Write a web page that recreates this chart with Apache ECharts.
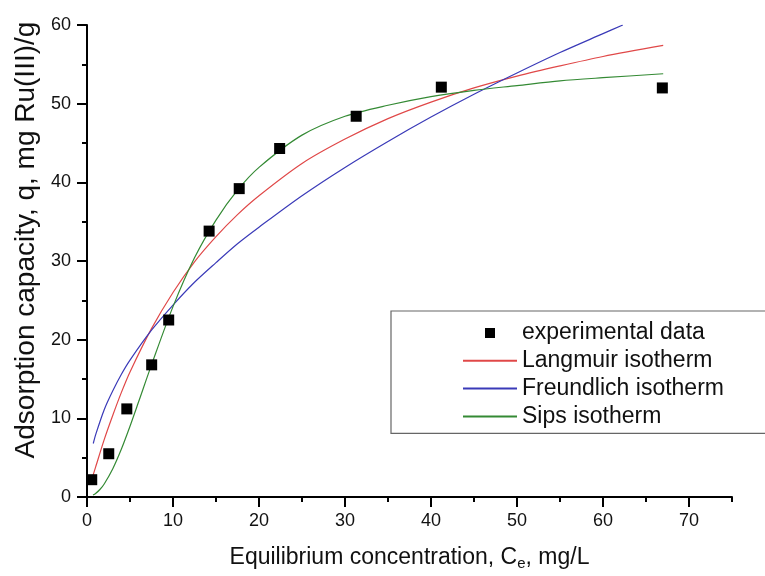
<!DOCTYPE html>
<html>
<head>
<meta charset="utf-8">
<script src="https://cdn.jsdelivr.net/npm/echarts@6/dist/echarts.min.js"></script>
<style>
html,body{margin:0;padding:0;background:#fff;}
#chart{width:765px;height:576px;}
</style>
</head>
<body>
<div id="chart"></div>
<script>
// Experimental data
var expX = [0.55, 2.53, 4.63, 7.52, 9.5, 14.2, 17.7, 22.4, 31.3, 41.2, 66.9];
var expY = [2.2, 5.5, 11.2, 16.8, 22.5, 33.8, 39.2, 44.3, 48.4, 52.1, 52.0];

// Langmuir isotherm curve
var langX = [0.6, 1, 2, 3, 4, 5, 7.5, 10, 12.5, 15, 17.5, 20, 25, 30, 35, 40, 45, 50, 55, 60, 67];
var langY = [2.4, 3.8, 7.3, 10.4, 13.3, 15.9, 21.4, 26.0, 29.9, 33.1, 35.9, 38.3, 42.4, 45.5, 48.1, 50.2, 52.0, 53.5, 54.8, 56.0, 57.4];

// Freundlich isotherm curve
var freuX = [0.73, 1, 2, 3, 4, 5, 7.5, 10, 12.5, 15, 17.5, 20, 25, 30, 35, 40, 45, 50, 55, 60, 62.3];
var freuY = [6.8, 7.9, 11.1, 13.5, 15.6, 17.4, 21.2, 24.4, 27.3, 29.8, 32.2, 34.3, 38.3, 41.9, 45.2, 48.3, 51.2, 53.9, 56.5, 58.9, 60.0];

// Sips isotherm curve
var sipsX = [0.7, 1, 1.5, 2, 3, 4, 5, 6, 7.5, 10, 12.5, 15, 17.5, 20, 25, 30, 35, 40, 45, 50, 55, 60, 67];
var sipsY = [0.25, 0.45, 0.95, 1.66, 3.6, 6.1, 9.0, 12.1, 16.8, 24.2, 30.4, 35.2, 39.0, 41.9, 46.0, 48.4, 49.8, 50.9, 51.7, 52.3, 52.9, 53.3, 53.8];

// Tick labels
var xTicks = [0, 10, 20, 30, 40, 50, 60, 70];
var xMinorTicks = [5, 15, 25, 35, 45, 55, 65, 75];
var yTicks = [0, 10, 20, 30, 40, 50, 60];

var seriesNames = ['experimental data', 'Langmuir isotherm', 'Freundlich isotherm', 'Sips isotherm'];

function pairs(xs, ys) { return xs.map(function (x, i) { return [x, ys[i]]; }); }

var FONT = 'Liberation Sans, Arial, sans-serif';
var chart = echarts.init(document.getElementById('chart'), null, { renderer: 'canvas' });

chart.setOption({
  backgroundColor: '#ffffff',
  animation: false,
  textStyle: { fontFamily: FONT },
  grid: { left: 87, right: 33, top: 25, bottom: 75, containLabel: false },
  legend: {
    orient: 'vertical',
    left: 391,
    top: 311,
    padding: [9, 80, 4, 71],
    borderColor: '#666',
    borderWidth: 1.2,
    itemWidth: 54,
    itemHeight: 10,
    itemGap: 1.8,
    symbolKeepAspect: true,
    selectedMode: false,
    textStyle: { fontFamily: FONT, fontSize: 23, color: '#111', lineHeight: 26 },
    data: [
      { name: seriesNames[0], icon: 'path://M0,0H10V10H0Z', itemStyle: { color: '#000', opacity: 1 } },
      { name: seriesNames[1], itemStyle: { opacity: 0 } },
      { name: seriesNames[2], itemStyle: { opacity: 0 } },
      { name: seriesNames[3], itemStyle: { opacity: 0 } }
    ]
  },
  xAxis: [
    {
      type: 'value', min: 0, max: 75, interval: 10,
      name: 'Equilibrium concentration, C{sub|e}, mg/L',
      nameLocation: 'middle', nameGap: 47,
      nameTextStyle: {
        fontFamily: FONT, fontSize: 23, color: '#111',
        rich: { sub: { fontFamily: FONT, fontSize: 15, color: '#111', padding: [12, 0, 0, 0] } }
      },
      axisLine: { show: true, lineStyle: { color: '#000', width: 2 } },
      axisTick: { show: true, inside: false, length: 10, customValues: xTicks, lineStyle: { color: '#000', width: 2 } },
      axisLabel: { show: true, customValues: xTicks, fontSize: 18, color: '#111', margin: 15, fontFamily: FONT },
      splitLine: { show: false }
    },
    {
      type: 'value', min: 0, max: 75, position: 'bottom',
      axisLine: { show: false },
      axisTick: { show: true, inside: false, length: 5, customValues: xMinorTicks, lineStyle: { color: '#000', width: 2 } },
      axisLabel: { show: false },
      splitLine: { show: false }
    }
  ],
  yAxis: {
    type: 'value', min: 0, max: 60, interval: 10,
    name: 'Adsorption capacity, q, mg Ru(III)/g',
    nameLocation: 'middle', nameRotate: 90, nameGap: 46,
    nameTextStyle: { fontFamily: FONT, fontSize: 28, color: '#111', padding: [0, 0, 0, 42] },
    axisLine: { show: true, lineStyle: { color: '#000', width: 2 } },
    axisTick: { show: true, inside: false, length: 10, customValues: yTicks, lineStyle: { color: '#000', width: 2 } },
    minorTick: { show: true, splitNumber: 2, length: 5, lineStyle: { color: '#000', width: 2 } },
    axisLabel: { show: true, customValues: yTicks, fontSize: 18, color: '#111', margin: 16, fontFamily: FONT },
    splitLine: { show: false }
  },
  series: [
    {
      name: seriesNames[0], type: 'scatter', symbol: 'rect', symbolSize: 11, symbolKeepAspect: true,
      itemStyle: { color: '#000', opacity: 1 }, z: 5,
      data: pairs(expX, expY)
    },
    {
      name: seriesNames[1], type: 'line', smooth: 0.3, symbol: 'none', showSymbol: false,
      lineStyle: { color: '#e04848', width: 1.2 }, itemStyle: { color: '#e04848' },
      data: pairs(langX, langY)
    },
    {
      name: seriesNames[2], type: 'line', smooth: 0.3, symbol: 'none', showSymbol: false,
      lineStyle: { color: '#3a3ab8', width: 1.2 }, itemStyle: { color: '#3a3ab8' },
      data: pairs(freuX, freuY)
    },
    {
      name: seriesNames[3], type: 'line', smooth: 0.3, symbol: 'none', showSymbol: false,
      lineStyle: { color: '#348a34', width: 1.2 }, itemStyle: { color: '#348a34' },
      data: pairs(sipsX, sipsY)
    }
  ]
});
</script>
</body>
</html>
